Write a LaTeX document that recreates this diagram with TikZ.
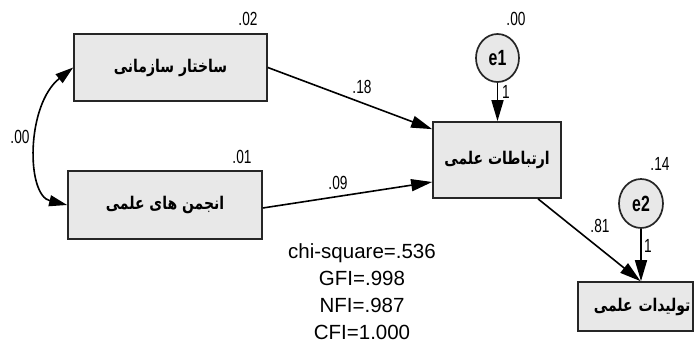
\documentclass[tikz,border=0pt]{standalone}
\usepackage{fontspec}
\setmainfont{Liberation Sans}
\newfontfamily\narrowfont[FakeStretch=0.72]{Liberation Sans}
\newfontfamily\arabicfont[Script=Arabic,FakeStretch=0.8]{DejaVu Sans}
\usetikzlibrary{arrows.meta,shapes.geometric}
\TeXXeTstate=1
\begin{document}
\begin{tikzpicture}[x=1pt,y=-1pt,
  box/.style={draw=black!85, line width=1.7pt, fill=black!9, rectangle, inner sep=0pt,
    font=\arabicfont\bfseries\fontsize{17.5}{17.5}\selectfont},
  err/.style={draw=black!85, line width=1.7pt, fill=black!9, ellipse, inner sep=0pt,
    minimum width=43pt, minimum height=48pt, font=\narrowfont\bfseries\fontsize{22}{22}\selectfont},
  arr/.style={line width=1.6pt, -{Triangle[length=21pt,width=12pt]}},
  cov/.style={line width=1.6pt, {Triangle[length=18pt,width=11pt]}-{Triangle[length=18pt,width=11pt]}},
  lbl/.style={font=\narrowfont\fontsize{19}{19}\selectfont, inner sep=0pt},
  stats/.style={font=\fontsize{20.5}{27}\selectfont, align=center, inner sep=0pt}]
\useasboundingbox (0,0) rectangle (694,347);

\node[box, minimum width=193pt, minimum height=67pt] (b1) at (170.5,67.5) {\beginR ساختار سازمانی\endR};
\node[box, minimum width=194pt, minimum height=68pt] (b2) at (165,205) {\beginR انجمن های علمی\endR};
\node[box, minimum width=128pt, minimum height=76pt] (b3) at (497,160) {\beginR ارتباطات علمی\endR};
\node[box, minimum width=115pt, minimum height=49pt, text width=110pt, inner xsep=2.5pt, align=right] (b4) at (635.5,306.5) {\beginR تولیدات علمی\endR};

\node[err] (e1) at (497.5,58) {e1};
\node[err, minimum width=44pt, minimum height=49pt] (e2) at (641,203.5) {e2};

\draw[arr] (b1.east) -- ([yshift=-8pt]b3.north west);
\draw[arr] ([yshift=-3pt]b2.east) -- ([yshift=-22pt]b3.west);
\draw[arr] ([xshift=41pt]b3.south) -- ([xshift=5pt]b4.north);
\draw[arr] (e1.south) -- (e1.south |- b3.north);
\draw[arr] (e2.south) -- (e2.south |- b4.north);
\draw[cov] (b1.west) .. controls (26,105) and (26,195) .. (b2.west);

\node[lbl] (l02) at (248,19) {.02};
\node[lbl] (l01) at (242,157) {.01};
\node[lbl] (lcov) at (20,137) {.00};
\node[lbl] (l18) at (362,87) {.18};
\node[lbl] (l09) at (338,183) {.09};
\node[lbl] (l00) at (516,19) {.00};
\node[lbl] (l1a) at (506,92) {1};
\node[lbl] (l14) at (660,164) {.14};
\node[lbl] (l81) at (600,226) {.81};
\node[lbl] (l1b) at (648,246) {1};

\node[stats] (st) at (362,292) {chi-square=.536\\GFI=.998\\NFI=.987\\CFI=1.000};
\end{tikzpicture}
\end{document}
